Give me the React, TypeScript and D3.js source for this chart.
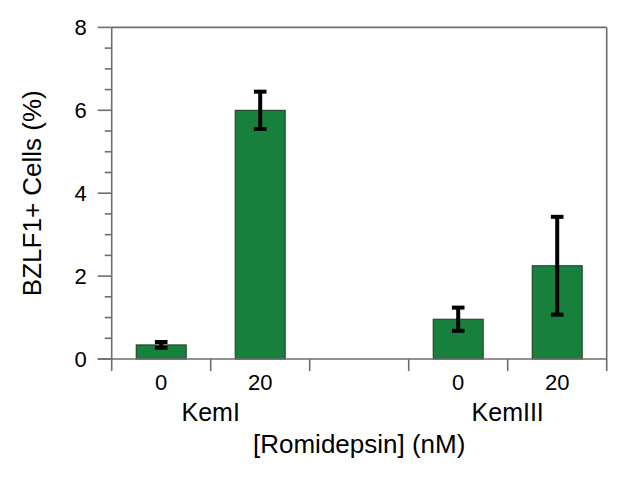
import React from "react";
import * as d3 from "d3";

const slots = ["KemI-0", "KemI-20", "gap", "KemIII-0", "KemIII-20"];
const concLabels = ["0", "20", "", "0", "20"];
const values: (number | null)[] = [0.34, 6.0, null, 0.96, 2.25];
const errors: (number | null)[] = [0.07, 0.45, null, 0.28, 1.18];
const groupLabels = ["KemI", "KemIII"];
const groupSlots = [["KemI-0", "KemI-20"], ["KemIII-0", "KemIII-20"]];
const majorTicks = [0, 2, 4, 6, 8];
const yLabel = "BZLF1+ Cells (%)";
const xLabel = "[Romidepsin] (nM)";

const W = 628, H = 482;
const left = 111.7, right = 606.7, top = 27.4, bottom = 359;
const font = "'Liberation Sans', Arial, Helvetica, sans-serif";
const axisColor = "#6e6e6e";
const barColor = "#17803d";

export default function App() {
  const x = d3.scaleBand<string>().domain(slots).range([left, right]).padding(0);
  const y = d3.scaleLinear().domain([0, 8]).range([bottom, top]);
  const minorTicks = d3.range(0, 8.001, 0.5).filter((v) => !majorTicks.includes(v));
  const bw = x.bandwidth();
  const barW = bw * 0.505;
  const capW = 12.6;
  const boundaries = slots.map((s) => x(s) as number).concat([right]);

  return (
    <svg width={W} height={H} style={{ position: "absolute", left: 0, top: 0 }} fontFamily={font}>
      <rect x={0} y={0} width={W} height={H} fill="#fff" />
      {slots.map((s, i) => {
        const v = values[i];
        if (v == null) return null;
        const cx = (x(s) as number) + bw / 2;
        return (
          <rect key={s} x={cx - barW / 2} y={y(v)} width={barW} height={y(0) - y(v)}
            fill={barColor} stroke="#1b3a22" strokeWidth={1} />
        );
      })}
      <line x1={left} x2={right} y1={top} y2={top} stroke={axisColor} strokeWidth={1.6} />
      <line x1={right} x2={right} y1={top} y2={bottom + 12} stroke={axisColor} strokeWidth={1.6} />
      <line x1={left} x2={left} y1={top} y2={bottom + 12} stroke={axisColor} strokeWidth={1.6} />
      <line x1={left - 14} x2={right} y1={bottom} y2={bottom} stroke={axisColor} strokeWidth={1.6} />
      {majorTicks.map((t) => (
        <g key={"M" + t}>
          <line x1={left - 14} x2={left} y1={y(t)} y2={y(t)} stroke={axisColor} strokeWidth={1.6} />
          <text x={left - 25} y={y(t)} dy="0.36em" textAnchor="end" fontSize={22} fill="#000">{t}</text>
        </g>
      ))}
      {minorTicks.map((t) => (
        <line key={"m" + t} x1={left - 7} x2={left} y1={y(t)} y2={y(t)} stroke={axisColor} strokeWidth={1.6} />
      ))}
      {boundaries.slice(1, -1).map((b, i) => (
        <line key={"b" + i} x1={b} x2={b} y1={bottom} y2={bottom + 12} stroke={axisColor} strokeWidth={1.6} />
      ))}
      {slots.map((s, i) => {
        const v = values[i];
        const e = errors[i];
        if (v == null || e == null) return null;
        const cx = (x(s) as number) + bw / 2;
        return (
          <g key={"e" + s} stroke="#000" strokeWidth={4}>
            <line x1={cx} x2={cx} y1={y(v + e)} y2={y(v - e)} />
            <line x1={cx - capW / 2} x2={cx + capW / 2} y1={y(v + e)} y2={y(v + e)} />
            <line x1={cx - capW / 2} x2={cx + capW / 2} y1={y(v - e)} y2={y(v - e)} />
          </g>
        );
      })}
      {slots.map((s, i) => (
        <text key={"t" + s} x={(x(s) as number) + bw / 2} y={390} textAnchor="middle" fontSize={22} fill="#000">
          {concLabels[i]}
        </text>
      ))}
      {groupLabels.map((g, i) => {
        const a = x(groupSlots[i][0]) as number;
        const b = (x(groupSlots[i][1]) as number) + bw;
        return (
          <text key={g} x={(a + b) / 2} y={421} textAnchor="middle" fontSize={25} fill="#000">{g}</text>
        );
      })}
      <text x={(left + right) / 2} y={453} textAnchor="middle" fontSize={26} fill="#000">{xLabel}</text>
      <text transform={`translate(${41},${(top + bottom) / 2}) rotate(-90)`} textAnchor="middle" fontSize={26} fill="#000">
        {yLabel}
      </text>
    </svg>
  );
}
